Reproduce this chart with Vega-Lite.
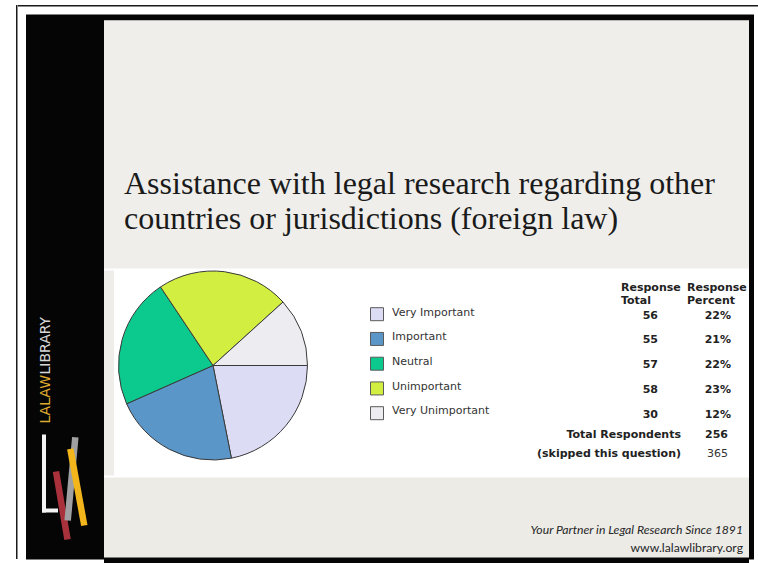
{
  "$schema": "https://vega.github.io/schema/vega-lite/v6.json",
  "background": "#ffffff",
  "padding": {"left": 16, "top": 5, "right": 0, "bottom": 4},
  "datasets": {
    "responses": [
      {"category": "Very Important", "total": 56, "percent": 0.22},
      {"category": "Important", "total": 55, "percent": 0.21},
      {"category": "Neutral", "total": 57, "percent": 0.22},
      {"category": "Unimportant", "total": 58, "percent": 0.23},
      {"category": "Very Unimportant", "total": 30, "percent": 0.12}
    ],
    "summary": [
      {"row": "Total Respondents", "count": 256},
      {"row": "(skipped this question)", "count": 365}
    ]
  },
  "config": {
    "view": {"stroke": null},
    "concat": {"spacing": 0},
    "axis": {"disable": true},
    "legend": {"disable": true}
  },
  "spacing": 0,
  "hconcat": [
    {"width": 1.5, "height": 554, "view": {"fill": "#1a1a1a"}, "data": {"values": []}, "mark": "rect", "encoding": {}},
    {
      "spacing": 7.5,
      "vconcat": [
        {"width": 740.5, "height": 1.5, "view": {"fill": "#1a1a1a"}, "data": {"values": []}, "mark": "rect", "encoding": {}},
        {
          "spacing": 0,
          "hconcat": [
            {"width": 7.5, "height": 545, "view": {"fill": "#ffffff"}, "data": {"values": []}, "mark": "rect", "encoding": {}},
            {
              "width": 78, "height": 545, "view": {"fill": "#050505"},
              "layer": [
                {
                  "data": {"values": [{"word": "LALAW"}]},
                  "mark": {"type": "text", "angle": 270, "align": "left", "baseline": "middle", "font": "DejaVu Sans", "fontSize": 14, "color": "#dcaa2e"},
                  "encoding": {
                    "text": {"field": "word"},
                    "y": {"field": "word", "type": "nominal", "scale": {"type": "point", "domain": ["LALAW", "LIBRARY"], "range": [409, 360], "padding": 0}},
                    "x": {"field": "word", "type": "nominal", "scale": {"type": "point", "domain": ["LALAW", "LIBRARY"], "range": [20, 20], "padding": 0}}
                  }
                },
                {
                  "data": {"values": [{"word": "LIBRARY"}]},
                  "mark": {"type": "text", "angle": 270, "align": "left", "baseline": "middle", "font": "DejaVu Sans", "fontSize": 14, "color": "#d8d8d8"},
                  "encoding": {
                    "text": {"field": "word"},
                    "y": {"field": "word", "type": "nominal", "scale": {"type": "point", "domain": ["LALAW", "LIBRARY"], "range": [409, 360], "padding": 0}},
                    "x": {"field": "word", "type": "nominal", "scale": {"type": "point", "domain": ["LALAW", "LIBRARY"], "range": [20, 20], "padding": 0}}
                  }
                },
                {
                  "data": {"values": [{}]},
                  "mark": {"type": "rule", "color": "#f4f4f4", "strokeWidth": 4},
                  "encoding": {"x": {"value": 18}, "y": {"value": 420}, "x2": {"value": 18}, "y2": {"value": 498}}
                },
                {
                  "data": {"values": [{}]},
                  "mark": {"type": "rule", "color": "#f4f4f4", "strokeWidth": 4},
                  "encoding": {"x": {"value": 16}, "y": {"value": 496}, "x2": {"value": 32}, "y2": {"value": 496}}
                },
                {
                  "data": {"values": [{}]},
                  "mark": {"type": "rule", "color": "#a8313c", "strokeWidth": 6.5},
                  "encoding": {"x": {"value": 30}, "y": {"value": 457}, "x2": {"value": 41.5}, "y2": {"value": 525}}
                },
                {
                  "data": {"values": [{}]},
                  "mark": {"type": "rule", "color": "#a0a0a2", "strokeWidth": 6.5},
                  "encoding": {"x": {"value": 49.3}, "y": {"value": 422.7}, "x2": {"value": 41.7}, "y2": {"value": 506}}
                },
                {
                  "data": {"values": [{}]},
                  "mark": {"type": "rule", "color": "#f2b61c", "strokeWidth": 6.5},
                  "encoding": {"x": {"value": 44.3}, "y": {"value": 434.3}, "x2": {"value": 58.3}, "y2": {"value": 511}}
                }
              ]
            },
            {
              "spacing": 0,
              "vconcat": [
                {"width": 645, "height": 6, "view": {"fill": "#050505"}, "data": {"values": []}, "mark": "rect", "encoding": {}},
                {
                  "width": 645, "height": 248, "view": {"fill": "#efeeea"},
                  "data": {"values": [
                    {"line": "Assistance with legal research regarding other"},
                    {"line": "countries or jurisdictions (foreign law)"}
                  ]},
                  "mark": {"type": "text", "align": "left", "baseline": "alphabetic", "font": "Liberation Serif", "fontSize": 32, "color": "#1a1a1a"},
                  "encoding": {
                    "text": {"field": "line"},
                    "y": {"field": "line", "type": "nominal", "sort": null, "scale": {"type": "point", "range": [173, 208], "padding": 0}},
                    "x": {"field": "line", "type": "nominal", "sort": null, "scale": {"type": "point", "range": [20, 20], "padding": 0}}
                  }
                },
                {
                  "spacing": 0,
                  "hconcat": [
                    {"width": 10, "height": 205, "view": {"fill": "#eeede9"}, "data": {"values": []}, "mark": "rect", "encoding": {}},
                    {
                      "spacing": 0,
                      "vconcat": [
                        {
                          "width": 198, "height": 190, "view": {"fill": "#ffffff"},
                          "data": {"name": "responses"},
                          "transform": [{"window": [{"op": "row_number", "as": "rank"}]}],
                          "mark": {"type": "arc", "outerRadius": 94.5, "stroke": "#3a3a3a", "strokeWidth": 1},
                          "encoding": {
                            "theta": {"field": "total", "type": "quantitative", "stack": true, "scale": {"range": [1.5707963, 7.8539816]}},
                            "order": {"field": "rank", "type": "quantitative", "sort": "ascending"},
                            "color": {
                              "field": "category", "type": "nominal",
                              "scale": {
                                "domain": ["Very Important", "Important", "Neutral", "Unimportant", "Very Unimportant"],
                                "range": ["#dcdcf4", "#5b96c8", "#0cc98e", "#d2ee40", "#ececf1"]
                              }
                            }
                          }
                        },
                        {"width": 198, "height": 15, "view": {"fill": "#ffffff"}, "data": {"values": []}, "mark": "rect", "encoding": {}}
                      ]
                    },
                    {
                      "width": 437, "height": 205, "view": {"fill": "#ffffff"},
                      "resolve": {"scale": {"x": "independent", "y": "independent"}},
                      "layer": [
                        {
                          "data": {"name": "responses"},
                          "mark": {"type": "point", "shape": "square", "size": 169, "filled": true, "stroke": "#5a5a5a", "strokeWidth": 1, "opacity": 1},
                          "encoding": {
                            "y": {"field": "category", "type": "nominal", "sort": null, "scale": {"type": "point", "range": [43.7, 142.7], "padding": 0}},
                            "x": {"field": "category", "type": "nominal", "sort": null, "scale": {"type": "point", "range": [65, 65], "padding": 0}},
                            "color": {
                              "field": "category", "type": "nominal",
                              "scale": {
                                "domain": ["Very Important", "Important", "Neutral", "Unimportant", "Very Unimportant"],
                                "range": ["#dcdcf4", "#5b96c8", "#0cc98e", "#d2ee40", "#ececf1"]
                              }
                            }
                          }
                        },
                        {
                          "data": {"name": "responses"},
                          "mark": {"type": "text", "align": "left", "baseline": "middle", "font": "DejaVu Sans", "fontSize": 11, "color": "#333333"},
                          "encoding": {
                            "text": {"field": "category"},
                            "y": {"field": "category", "type": "nominal", "sort": null, "scale": {"type": "point", "range": [42, 140.7], "padding": 0}},
                            "x": {"field": "category", "type": "nominal", "sort": null, "scale": {"type": "point", "range": [80, 80], "padding": 0}}
                          }
                        },
                        {
                          "data": {"name": "responses"},
                          "mark": {"type": "text", "align": "right", "baseline": "middle", "font": "DejaVu Sans", "fontSize": 11, "fontWeight": "bold", "color": "#222222"},
                          "encoding": {
                            "text": {"field": "total", "type": "quantitative"},
                            "y": {"field": "category", "type": "nominal", "sort": null, "scale": {"type": "point", "range": [45.3, 144], "padding": 0}},
                            "x": {"field": "category", "type": "nominal", "sort": null, "scale": {"type": "point", "range": [346, 346], "padding": 0}}
                          }
                        },
                        {
                          "data": {"name": "responses"},
                          "mark": {"type": "text", "align": "right", "baseline": "middle", "font": "DejaVu Sans", "fontSize": 11, "fontWeight": "bold", "color": "#222222"},
                          "encoding": {
                            "text": {"field": "percent", "type": "quantitative", "format": ".0%"},
                            "y": {"field": "category", "type": "nominal", "sort": null, "scale": {"type": "point", "range": [45.3, 144], "padding": 0}},
                            "x": {"field": "category", "type": "nominal", "sort": null, "scale": {"type": "point", "range": [419, 419], "padding": 0}}
                          }
                        },
                        {
                          "data": {"values": [
                            {"col": "Response Total", "lines": ["Response", "Total"]},
                            {"col": "Response Percent", "lines": ["Response", "Percent"]}
                          ]},
                          "mark": {"type": "text", "align": "left", "baseline": "middle", "lineHeight": 13.4, "font": "DejaVu Sans", "fontSize": 11, "fontWeight": "bold", "color": "#222222"},
                          "encoding": {
                            "text": {"field": "lines"},
                            "x": {"field": "col", "type": "nominal", "sort": null, "scale": {"type": "point", "range": [309, 375], "padding": 0}},
                            "y": {"field": "col", "type": "nominal", "sort": null, "scale": {"type": "point", "range": [17, 17], "padding": 0}}
                          }
                        },
                        {
                          "data": {"name": "summary"},
                          "mark": {"type": "text", "align": "right", "baseline": "middle", "font": "DejaVu Sans", "fontSize": 11, "fontWeight": "bold", "color": "#222222"},
                          "encoding": {
                            "text": {"field": "row"},
                            "y": {"field": "row", "type": "nominal", "scale": {"type": "point", "domain": ["Total Respondents", "(skipped this question)"], "range": [164.7, 183], "padding": 0}},
                            "x": {"field": "row", "type": "nominal", "scale": {"type": "point", "range": [369, 369], "padding": 0}}
                          }
                        },
                        {
                          "data": {"name": "summary"},
                          "transform": [{"filter": "datum.row == 'Total Respondents'"}],
                          "mark": {"type": "text", "align": "right", "baseline": "middle", "font": "DejaVu Sans", "fontSize": 11, "fontWeight": "bold", "color": "#222222"},
                          "encoding": {
                            "text": {"field": "count", "type": "quantitative"},
                            "y": {"field": "row", "type": "nominal", "scale": {"type": "point", "domain": ["Total Respondents", "(skipped this question)"], "range": [164.7, 183], "padding": 0}},
                            "x": {"field": "row", "type": "nominal", "scale": {"type": "point", "domain": ["Total Respondents", "(skipped this question)"], "range": [416, 416], "padding": 0}}
                          }
                        },
                        {
                          "data": {"name": "summary"},
                          "transform": [{"filter": "datum.row == '(skipped this question)'"}],
                          "mark": {"type": "text", "align": "right", "baseline": "middle", "font": "DejaVu Sans", "fontSize": 11, "color": "#333333"},
                          "encoding": {
                            "text": {"field": "count", "type": "quantitative"},
                            "y": {"field": "row", "type": "nominal", "scale": {"type": "point", "domain": ["Total Respondents", "(skipped this question)"], "range": [164.7, 183], "padding": 0}},
                            "x": {"field": "row", "type": "nominal", "scale": {"type": "point", "domain": ["Total Respondents", "(skipped this question)"], "range": [416, 416], "padding": 0}}
                          }
                        }
                      ]
                    }
                  ]
                },
                {
                  "width": 645, "height": 80, "view": {"fill": "#ecebe6"},
                  "data": {"values": [
                    {"line": "Your Partner in Legal Research Since 1891"},
                    {"line": "www.lalawlibrary.org"}
                  ]},
                  "layer": [
                    {
                      "transform": [{"filter": "datum.line == 'Your Partner in Legal Research Since 1891'"}],
                      "mark": {"type": "text", "align": "right", "baseline": "middle", "font": "Lato", "fontSize": 12.2, "fontStyle": "italic", "color": "#262626"},
                      "encoding": {
                        "text": {"field": "line"},
                        "y": {"field": "line", "type": "nominal", "scale": {"type": "point", "domain": ["Your Partner in Legal Research Since 1891", "www.lalawlibrary.org"], "range": [52, 70], "padding": 0}},
                        "x": {"field": "line", "type": "nominal", "scale": {"type": "point", "domain": ["Your Partner in Legal Research Since 1891", "www.lalawlibrary.org"], "range": [639, 639], "padding": 0}}
                      }
                    },
                    {
                      "transform": [{"filter": "datum.line == 'www.lalawlibrary.org'"}],
                      "mark": {"type": "text", "align": "right", "baseline": "middle", "font": "Lato", "fontSize": 12.2, "color": "#262626"},
                      "encoding": {
                        "text": {"field": "line"},
                        "y": {"field": "line", "type": "nominal", "scale": {"type": "point", "domain": ["Your Partner in Legal Research Since 1891", "www.lalawlibrary.org"], "range": [52, 70], "padding": 0}},
                        "x": {"field": "line", "type": "nominal", "scale": {"type": "point", "domain": ["Your Partner in Legal Research Since 1891", "www.lalawlibrary.org"], "range": [639, 639], "padding": 0}}
                      }
                    }
                  ]
                },
                {"width": 645, "height": 6, "view": {"fill": "#050505"}, "data": {"values": []}, "mark": "rect", "encoding": {}}
              ]
            },
            {"width": 5, "height": 545, "view": {"fill": "#050505"}, "data": {"values": []}, "mark": "rect", "encoding": {}},
            {"width": 5, "height": 545, "view": {"fill": "#ffffff"}, "data": {"values": []}, "mark": "rect", "encoding": {}}
          ]
        }
      ]
    }
  ]
}
